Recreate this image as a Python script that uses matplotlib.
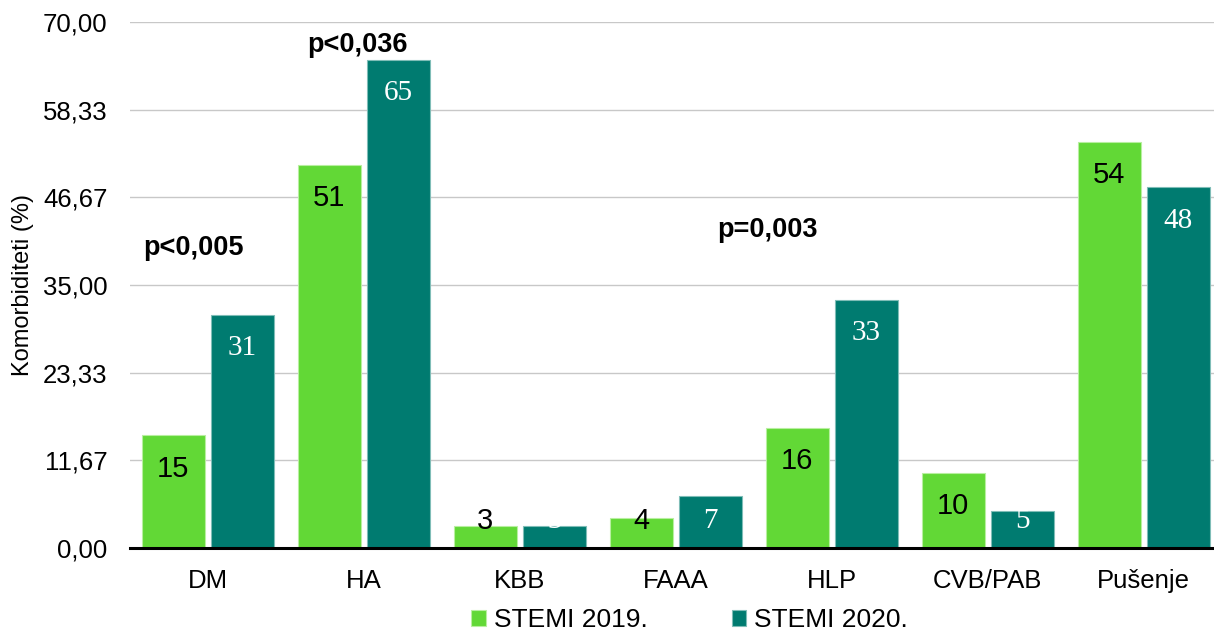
import numpy as np
import matplotlib.pyplot as plt

# podaci
kategorije = ['DM', 'HA', 'KBB', 'FAAA', 'HLP', 'CVB/PAB', 'Pušenje']
stemi_2019 = [15, 51, 3, 4, 16, 10, 54]
stemi_2020 = [31, 65, 3, 7, 33, 5, 48]
y_ticks = [0, 11.67, 23.33, 35, 46.67, 58.33, 70]
p_tekst = ['p<0,005', 'p<0,036', 'p=0,003']
p_x = [-0.09, 0.96, 3.59]
p_y = [39.9, 66.9, 42.3]

ZELENA = '#62D836'
TIRKIZ = '#007B70'
FONT = 'Liberation Sans'

fig = plt.figure(figsize=(12.14, 6.33), dpi=100)
ax = fig.add_axes([0.107, 0.134, 0.893, 0.831])

x = np.arange(len(kategorije))
w = 0.405
off = 0.222
b1 = ax.bar(x - off, stemi_2019, w, color=ZELENA, edgecolor='#B8EFA0', linewidth=0.8,
            label='STEMI 2019.', zorder=2)
b2 = ax.bar(x + off, stemi_2020, w, color=TIRKIZ, edgecolor='#7FBDB7', linewidth=0.8,
            label='STEMI 2020.', zorder=2)

# oznake vrijednosti unutar stupaca
for xi, v in zip(x, stemi_2019):
    ax.text(xi - off, max(v - 4.4, 3.6), str(v), ha='center', va='center',
            fontsize=21, color='black', family=FONT, zorder=3)
for xi, v in zip(x, stemi_2020):
    ax.text(xi + off, max(v - 4.4, 3.6), str(v), ha='center', va='center',
            fontsize=21, color='white', family='Liberation Serif', zorder=3)

for t, px, py in zip(p_tekst, p_x, p_y):
    ax.text(px, py, t, ha='center', va='center', fontsize=19.5, fontweight='bold',
            family=FONT)

ax.set_ylim(0, 70)
ax.set_xlim(-0.5, 6.45)
ax.set_yticks(y_ticks)
ax.set_yticklabels([f'{v:.2f}'.replace('.', ',') for v in y_ticks],
                   fontsize=18.5, family=FONT)
ax.set_xticks(x)
ax.set_xticklabels(kategorije, fontsize=18.5, family=FONT)
ax.tick_params(axis='both', length=0)
ax.tick_params(axis='x', pad=15)
ax.tick_params(axis='y', pad=16)
ax.grid(True, axis='y', color='#C8C8C8', linewidth=1, zorder=0)
for s in ['top', 'right', 'left']:
    ax.spines[s].set_visible(False)
ax.spines['bottom'].set_linewidth(2.2)
ax.spines['bottom'].set_zorder(4)
ax.set_ylabel('Komorbiditeti (%)', fontsize=17, family=FONT)
ax.yaxis.set_label_coords(-0.088, 0.5)

fig.legend(handles=[b1, b2], loc='lower center', bbox_to_anchor=(0.568, -0.036), ncol=2,
           frameon=False, prop={'family': FONT, 'size': 19},
           handlelength=0.55, handleheight=0.55, handletextpad=0.3, columnspacing=3.2)

fig.savefig('out.png', dpi=100)
